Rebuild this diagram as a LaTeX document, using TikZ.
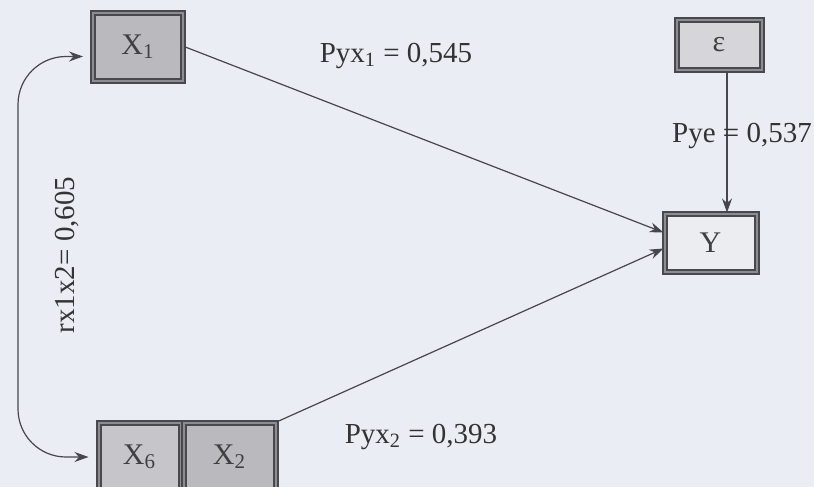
\documentclass[tikz,border=0pt]{standalone}
\usepackage{fontspec}
\setmainfont{Liberation Serif}
\usepackage{xcolor}
\usetikzlibrary{arrows.meta,positioning,calc}

\definecolor{paper}{RGB}{234,237,243}
\definecolor{framegray}{RGB}{72,72,78}
\definecolor{midgray}{RGB}{140,140,145}
\definecolor{boxgray}{RGB}{186,186,190}
\definecolor{cellgray}{RGB}{198,198,202}
\definecolor{lightgray}{RGB}{214,214,218}
\definecolor{palegray}{RGB}{236,237,241}
\definecolor{linegray}{RGB}{70,70,76}

\begin{document}
\begin{tikzpicture}[x=0.5pt,y=-0.5pt,
  var/.style={rectangle,draw=framegray,line width=1pt,double=midgray,double distance=1pt,inner sep=0pt,font=\fontsize{15}{17}\selectfont,text=black!75},
  coef/.style={font=\fontsize{14.5}{17}\selectfont,text=black!80},
  path/.style={-{Stealth[length=7pt,width=5pt]},line width=0.6pt,draw=linegray}]
\useasboundingbox[fill=paper] (0,0) rectangle (814,487);

% variables
\node[var,fill=boxgray,minimum width=45pt,minimum height=34pt] (x1) at (138,46.5) {X\textsubscript{1}};
\node[var,fill=lightgray,minimum width=42.5pt,minimum height=25pt] (eps) at (719,44.5) {ε};
\node[var,fill=palegray,minimum width=46pt,minimum height=29pt] (y) at (710.5,242.5) {Y};
\node[var,fill=cellgray,minimum width=41pt,minimum height=34pt] (x6) at (139.5,457) {X\textsubscript{6}};
\node[var,fill=boxgray,minimum width=46pt,minimum height=34pt] (x2) at (229.5,457) {X\textsubscript{2}};

% paths to Y
\draw[path] (x1.east) -- ([yshift=5pt]y.west);
\draw[path] (x2.north east) -- ([yshift=-3pt]y.west);
\draw[path] ([xshift=4pt]eps.south) -- ([xshift=4pt]eps.south |- y.north);

% correlation
\coordinate (rail) at (18,255);
\draw[path,{Stealth[length=7pt,width=5pt]}-{Stealth[length=7pt,width=5pt]},rounded corners=24pt,shorten <=4.5pt,shorten >=4.5pt]
  ([yshift=-5pt]x1.west) -| (rail) |- (x6.west);

% coefficients
\node[coef] (pyx1) at (396,56) {Pyx\textsubscript{1} = 0,545};
\node[coef] (pye) at (742,136) {Pye = 0,537};
\node[coef] (pyx2) at (421,437) {Pyx\textsubscript{2} = 0,393};
\node[coef,rotate=90] (rx) at (67,255) {rx1x2= 0,605};
\end{tikzpicture}
\end{document}
